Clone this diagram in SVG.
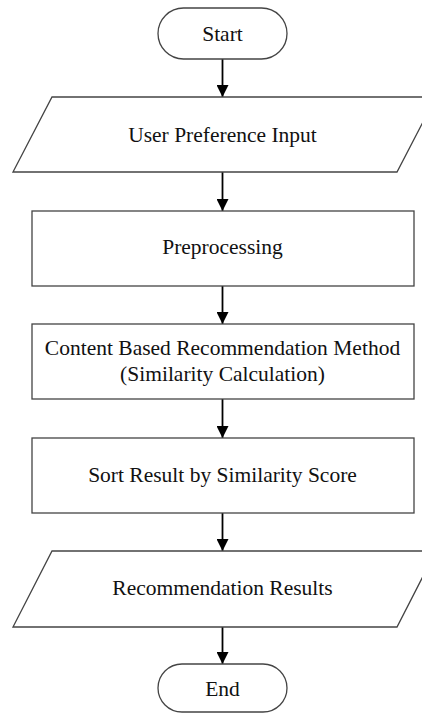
<svg xmlns="http://www.w3.org/2000/svg" width="422" height="713" viewBox="0 0 422 713">
<defs>
<marker id="ah" viewBox="0 0 12 12" refX="12" refY="6" markerWidth="12" markerHeight="12" markerUnits="userSpaceOnUse" orient="auto">
<path d="M0,0 L12,6 L0,12 Z" fill="#000"/>
</marker>
<style>
.shape{fill:#fff;stroke:#444;stroke-width:1.3}
.lbl{font-family:"Liberation Serif","Times New Roman",serif;font-size:21.5px;fill:#111;text-anchor:middle}
.conn{stroke:#000;stroke-width:1.8;fill:none}
</style>
</defs>
<rect width="422" height="713" fill="#fff"/>
<g id="connectors">
<line class="conn" x1="222.5" y1="59" x2="222.5" y2="97" marker-end="url(#ah)"/>
<line class="conn" x1="222.5" y1="172" x2="222.5" y2="211" marker-end="url(#ah)"/>
<line class="conn" x1="222.5" y1="286" x2="222.5" y2="324" marker-end="url(#ah)"/>
<line class="conn" x1="222.5" y1="399" x2="222.5" y2="438" marker-end="url(#ah)"/>
<line class="conn" x1="222.5" y1="513" x2="222.5" y2="551" marker-end="url(#ah)"/>
<line class="conn" x1="222.5" y1="627" x2="222.5" y2="664" marker-end="url(#ah)"/>
</g>
<g id="start">
<rect class="shape" x="158" y="8" width="129" height="51" rx="25.5"/>
<text class="lbl" x="222.5" y="41">Start</text>
</g>
<g id="input">
<polygon class="shape" points="52,97 436,97 397,172 13,172"/>
<text class="lbl" x="222.5" y="142">User Preference Input</text>
</g>
<g id="preprocessing">
<rect class="shape" x="32" y="211" width="382" height="75"/>
<text class="lbl" x="222.5" y="254">Preprocessing</text>
</g>
<g id="cbr">
<rect class="shape" x="32" y="324" width="382" height="75"/>
<text class="lbl" x="222.5" y="355">Content Based Recommendation Method</text>
<text class="lbl" x="222.5" y="381">(Similarity Calculation)</text>
</g>
<g id="sort">
<rect class="shape" x="32" y="438" width="382" height="75"/>
<text class="lbl" x="222.5" y="482">Sort Result by Similarity Score</text>
</g>
<g id="results">
<polygon class="shape" points="52,551 436,551 397,627 13,627"/>
<text class="lbl" x="222.5" y="595">Recommendation Results</text>
</g>
<g id="end">
<rect class="shape" x="158" y="664" width="129" height="48" rx="24"/>
<text class="lbl" x="222.5" y="696">End</text>
</g>
</svg>
